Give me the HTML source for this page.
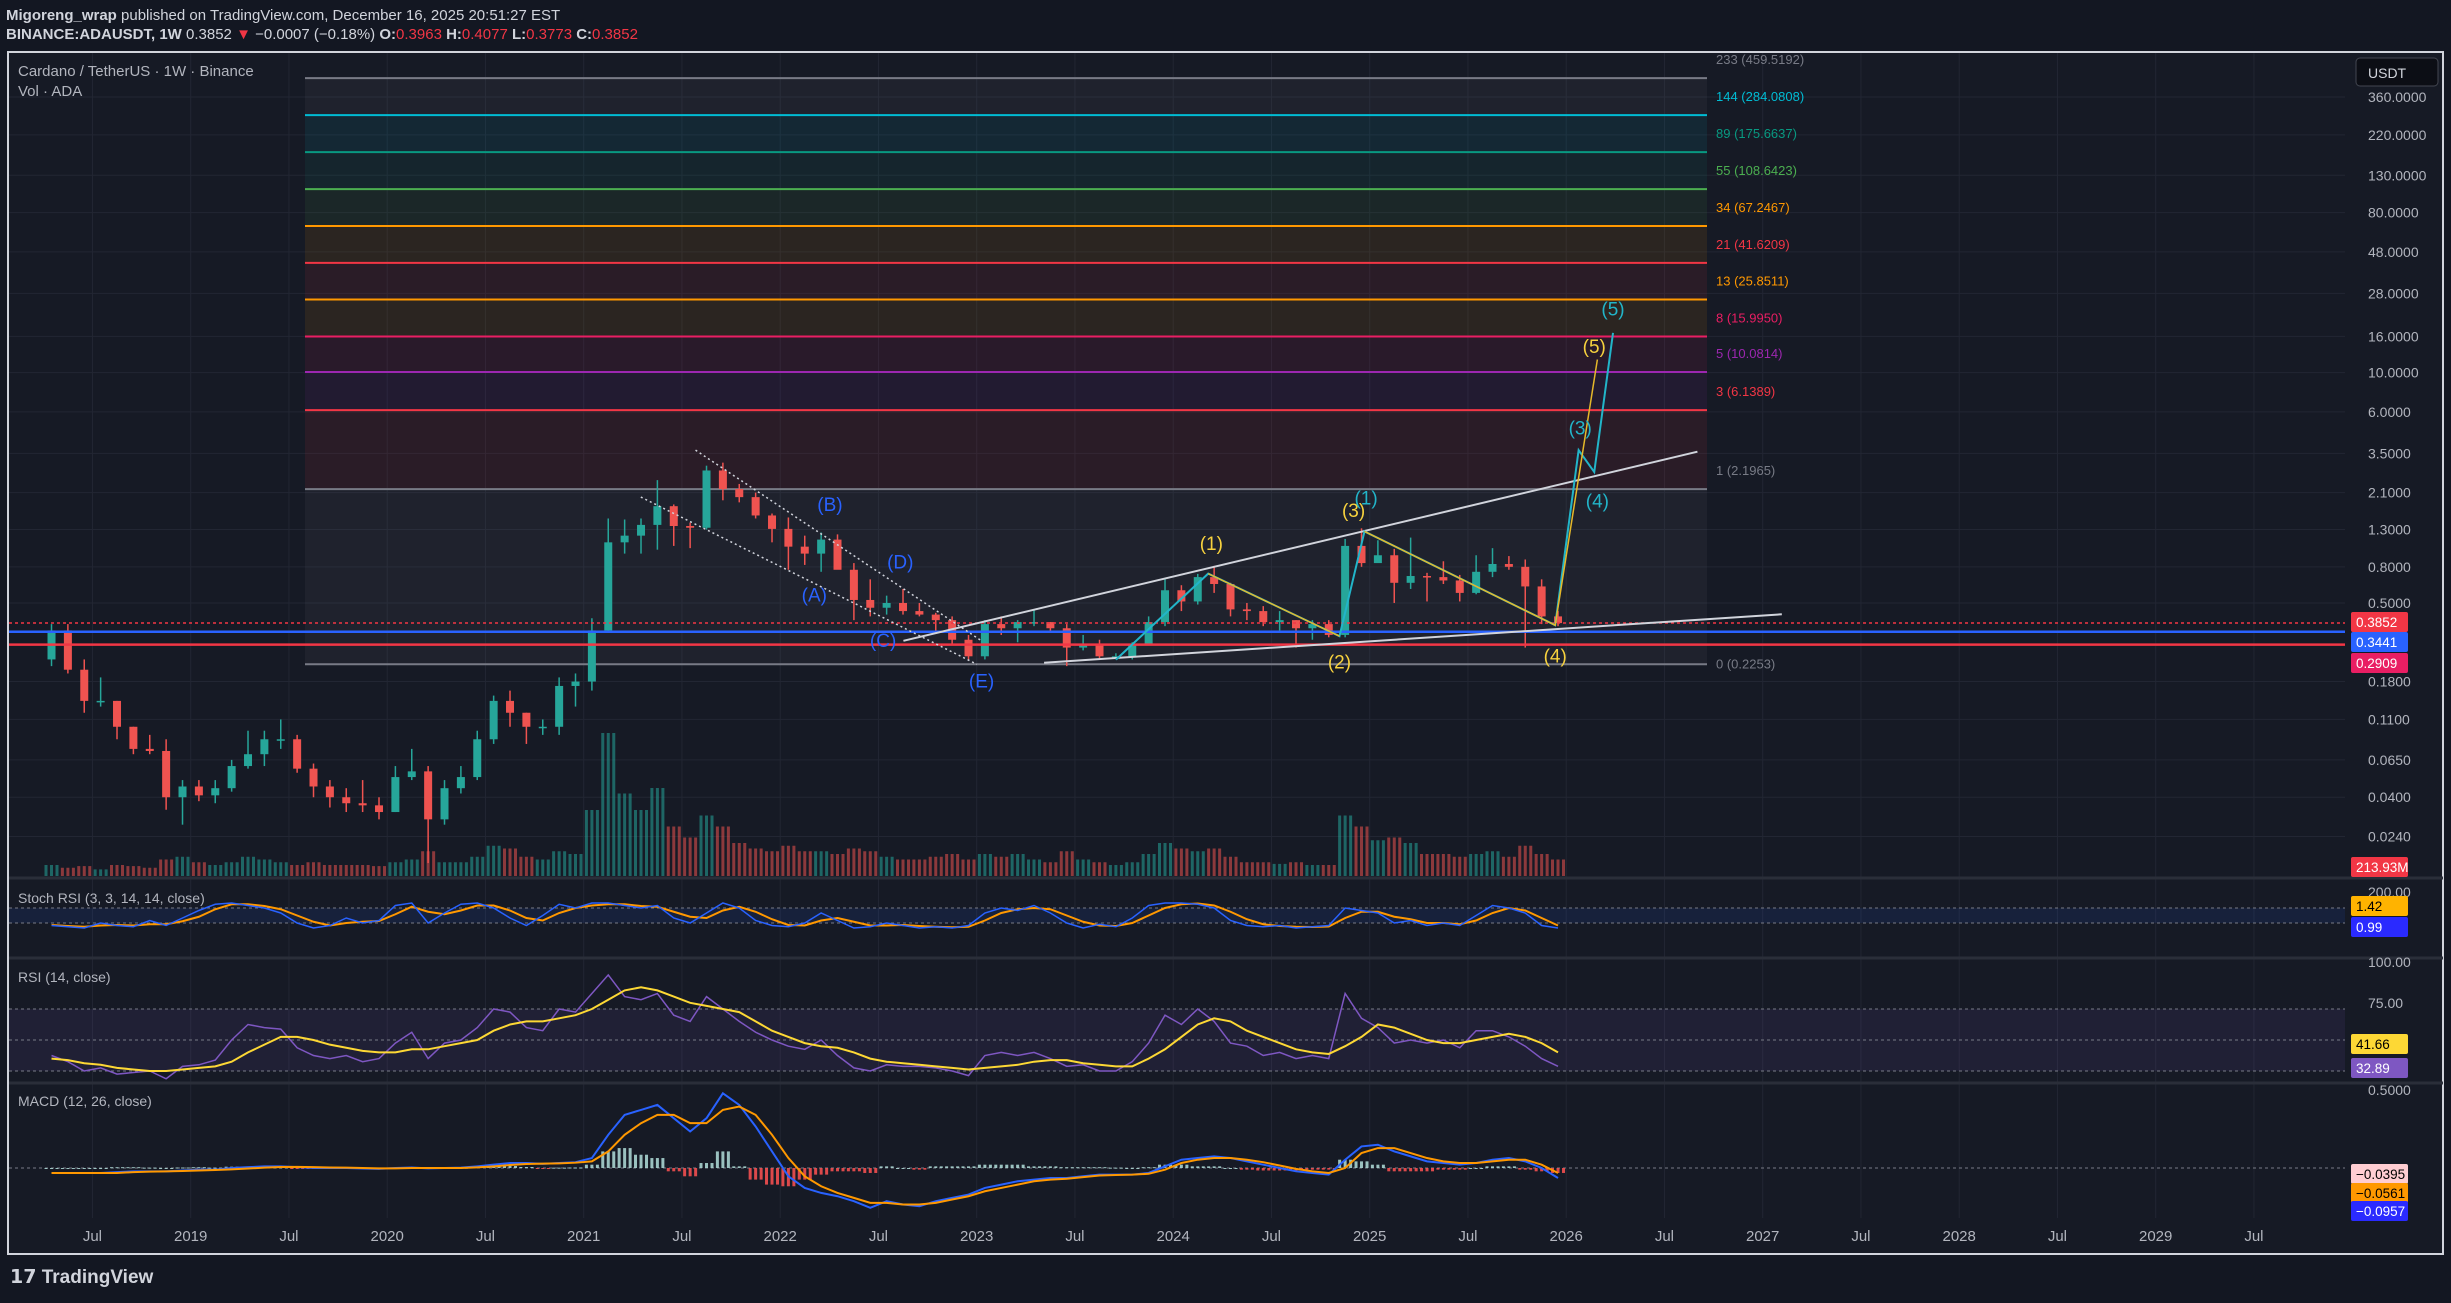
<!DOCTYPE html>
<html><head><meta charset="utf-8"><style>
html,body{margin:0;padding:0;background:#131722;}
body{width:2451px;height:1298px;overflow:hidden;font-family:"Liberation Sans",sans-serif;}
svg text{font-family:"Liberation Sans",sans-serif;}
</style></head><body>
<svg id="c" width="2451" height="1298" viewBox="0 0 2451 1298" xmlns="http://www.w3.org/2000/svg">
<rect x="0" y="0" width="2451" height="1298" fill="#131722"/>
<text x="6" y="20" fill="#d1d4dc" font-size="15"><tspan font-weight="bold">Migoreng_wrap</tspan> published on TradingView.com, December 16, 2025 20:51:27 EST</text>
<text x="6" y="39" fill="#d1d4dc" font-size="15"><tspan font-weight="bold">BINANCE:ADAUSDT, 1W</tspan> 0.3852 <tspan fill="#f23645">▼</tspan> −0.0007 (−0.18%) <tspan font-weight="bold">O:</tspan><tspan fill="#f23645">0.3963</tspan> <tspan font-weight="bold">H:</tspan><tspan fill="#f23645">0.4077</tspan> <tspan font-weight="bold">L:</tspan><tspan fill="#f23645">0.3773</tspan> <tspan font-weight="bold">C:</tspan><tspan fill="#f23645">0.3852</tspan></text>
<rect x="8" y="52" width="2435" height="1202" fill="#161a25" stroke="#d1d4dc" stroke-width="2"/>
<g id="grid"></g>
<g id="fib"></g>
<g id="vol"></g>
<g id="candles"></g>
<g id="draw"></g>
<g id="panes"></g>
<g id="axis"></g>
<text x="18" y="76" fill="#b2b5be" font-size="15">Cardano / TetherUS · 1W · Binance</text>
<text x="18" y="96" fill="#b2b5be" font-size="15">Vol · ADA</text>
<text x="18" y="903" fill="#b2b5be" font-size="14">Stoch RSI (3, 3, 14, 14, close)</text>
<text x="18" y="982" fill="#b2b5be" font-size="14">RSI (14, close)</text>
<text x="18" y="1106" fill="#b2b5be" font-size="14">MACD (12, 26, close)</text>
<rect x="2356" y="58" width="82" height="28" rx="4" fill="#0c0e15" stroke="#434651"/>
<text x="2368" y="78" fill="#d1d4dc" font-size="14">USDT</text>
<text x="10" y="1283" fill="#d1d4dc" font-size="19" font-weight="bold">𝟭𝟳 TradingView</text>
</svg>
<script>
const NS="http://www.w3.org/2000/svg";
const startYear=2018.25;
const opens=[.24,.35,.21,.14,.14,.10,.075,.073,.04, .046,.041,.045,.06,.07,.085,.085,.058,.046,.04,.037,.036, .033,.052,.056,.03,.045,.052,.085,.14,.12,.10,.10,.17, .18,.35,1.10,1.20,1.38,1.76,1.36,1.33,2.80,2.20,1.98,1.56, 1.31,1.04,.95,1.14,.77,.52,.47,.50,.45,.43,.40,.31, .25,.38,.36,.39,.39,.36,.28,.29,.25,.25,.29,.39, .59,.51,.70,.64,.46,.45,.39,.40,.36,.38,.33,1.05, .84,.93,.65,.71,.70,.67,.57,.75,.83,.80,.62,.42];
const highs=[.38,.38,.24,.19,.14,.10,.09,.085,.05, .05,.05,.065,.095,.095,.11,.09,.062,.05,.045,.05,.04, .06,.075,.06,.05,.06,.095,.15,.16,.12,.11,.19,.20, .41,1.50,1.48,1.50,2.47,1.80,1.42,2.98,3.10,2.35,2.10,1.60, 1.52,1.20,1.25,1.22,.84,.68,.55,.60,.50,.44,.42,.33, .40,.42,.40,.46,.39,.38,.33,.31,.26,.30,.42,.68, .63,.73,.81,.65,.50,.48,.45,.40,.40,.40,1.15,1.32, 1.13,1.01,1.17,.74,.86,.72,.93,1.02,.92,.88,.68,.45];
const lows=[.22,.20,.12,.13,.085,.07,.07,.034,.028, .038,.037,.043,.058,.06,.075,.055,.04,.035,.033,.033,.03, .033,.05,.017,.028,.042,.05,.08,.10,.08,.09,.09,.13, .16,.35,.95,.95,1.00,1.05,1.02,1.30,1.90,1.85,1.50,1.10, .77,.82,.75,.78,.40,.42,.43,.43,.42,.34,.29,.24, .24,.33,.30,.37,.34,.22,.27,.24,.24,.24,.29,.37, .45,.49,.57,.42,.40,.37,.35,.28,.31,.32,.32,.80, .85,.50,.60,.51,.64,.51,.56,.70,.77,.28,.38,.37];
const closes=[.35,.21,.14,.14,.10,.075,.073,.04,.046, .041,.045,.06,.07,.085,.085,.058,.046,.04,.037,.036,.033, .052,.056,.03,.045,.052,.085,.14,.12,.10,.10,.17,.18, .35,1.10,1.20,1.38,1.76,1.36,1.33,2.80,2.20,1.98,1.56,1.31, 1.04,.95,1.14,.77,.52,.47,.50,.45,.43,.40,.31,.25, .38,.36,.39,.39,.36,.28,.29,.25,.25,.29,.39,.59, .51,.70,.64,.46,.45,.39,.40,.36,.38,.33,1.05,.84, .93,.65,.71,.70,.67,.57,.75,.83,.80,.62,.42,.385];
const volumes=[20,15,18,12,20,18,15,30,35, 25,20,25,35,30,25,20,25,20,20,20,18, 25,30,45,25,25,35,55,50,35,30,45,40, 120,260,150,120,160,90,70,110,90,60,50,45, 55,45,45,40,50,45,35,30,30,35,40,30, 40,35,40,30,25,45,30,25,20,25,40,60, 50,45,50,35,25,25,22,25,20,20,110,90, 65,70,60,40,40,35,40,45,35,55,40,30];
const stochK=[10,5,0,20,10,5,30,10,40, 70,95,100,90,80,60,20,0,10,40,20,30, 90,100,20,60,95,100,80,40,10,50,95,80, 100,100,90,80,90,40,20,60,100,80,30,10, 5,20,60,30,0,5,20,10,0,5,0,10, 60,80,70,90,60,20,0,15,5,40,90,100, 100,95,80,30,10,5,10,0,5,10,80,70, 60,20,30,10,20,10,50,90,80,60,10,0];
const stochD=[12,8,5,10,12,10,15,15,27, 45,75,95,95,88,75,50,25,10,20,25,28, 55,85,65,55,70,90,90,70,40,30,60,80, 90,95,95,88,85,65,45,40,70,85,65,35, 12,10,30,40,25,10,10,12,8,5,3,5, 30,60,75,80,75,50,25,10,8,20,50,80, 95,98,90,65,35,15,8,5,4,6,40,65, 65,45,35,20,20,15,30,60,80,70,40,10];
const rsiVals=[40,36,30,32,28,29,30,25,33, 34,37,50,60,58,57,45,40,38,40,36,38, 48,55,38,48,50,58,70,68,58,56,70,68, 80,92,78,76,80,66,62,78,70,62,55,50, 46,44,50,40,32,30,34,33,33,32,30,27, 40,42,40,42,38,33,34,30,30,36,48,66, 60,70,62,48,46,40,42,38,40,38,80,64, 58,48,50,48,50,45,56,56,52,46,38,33];
const rsiMA=[38,37,35,34,32,31,30,30,31, 32,33,36,42,47,52,52,50,47,45,43,42, 42,44,44,46,48,50,56,60,62,62,64,66, 70,76,82,84,82,78,74,72,70,68,62,56, 52,48,46,45,42,38,36,35,34,33,32,31, 32,33,34,36,37,37,35,34,33,33,38,44, 52,60,64,62,56,52,48,44,42,41,46,52, 60,58,54,50,48,48,50,52,54,52,48,42];
const macdVals=[-.03,-.03,-.03,-.03,-.025,-.02,-.02,-.02,-.015, -.01,-.01,0,.005,.01,.01,.005,0,0,0,-.003,-.005, 0,.003,-.002,0,.002,.01,.02,.03,.03,.025,.03,.035, .06,.2,.32,.35,.38,.3,.22,.3,.45,.38,.25,.1, -.05,-.12,-.15,-.17,-.2,-.24,-.2,-.22,-.23,-.2,-.18,-.16, -.12,-.1,-.08,-.07,-.06,-.06,-.05,-.04,-.04,-.04,-.03,.01, .05,.06,.07,.06,.04,.02,0,-.02,-.03,-.04,.05,.13, .14,.1,.07,.04,.03,.02,.03,.05,.06,.04,0,-.06];
const signalVals=[-.03,-.03,-.03,-.03,-.03,-.025,-.022,-.02,-.018, -.015,-.012,-.008,-.003,.002,.006,.007,.005,.003,.002,0,-.002, -.002,0,0,0,0,.004,.01,.018,.024,.026,.028,.032, .04,.1,.2,.27,.32,.32,.27,.27,.35,.37,.32,.2, .06,-.05,-.11,-.15,-.18,-.21,-.21,-.22,-.22,-.21,-.19,-.17, -.14,-.12,-.1,-.08,-.07,-.065,-.055,-.045,-.042,-.04,-.035,-.01, .03,.05,.06,.06,.05,.035,.015,-.005,-.02,-.03,0,.09, .12,.12,.09,.06,.04,.03,.03,.04,.05,.05,.02,-.03];
const priceTicks=[360,220,130,80,48,28,16,10,6,3.5,2.1,1.3,0.8,0.5,0.18,0.11,0.065,0.04,0.024];
const fibLevels=["0","1","3","5","8","13","21","34","55","89","144","233"];
const fibPrices=[0.2253,2.1965,6.1389,10.0814,15.995,25.8511,41.6209,67.2467,108.6423,175.6637,284.0808,459.5192];
const fibColors=["#787b86","#787b86","#f23645","#9c27b0","#e91e63","#ff9800","#f23645","#ff9800","#4caf50","#089981","#00bcd4","#787b86"];
const timeLabels=["Jul","2019","Jul","2020","Jul","2021","Jul","2022","Jul","2023","Jul","2024","Jul","2025","Jul","2026","Jul","2027","Jul","2028","Jul","2029","Jul"];
const timeValues=[2018.5,2019,2019.5,2020,2020.5,2021,2021.5,2022,2022.5,2023,2023.5,2024,2024.5,2025,2025.5,2026,2026.5,2027,2027.5,2028,2028.5,2029,2029.5];

const xYear=t=>190.7+(t-2019)*196.5;
const xIdx=i=>xYear(startYear+i/12+1/24);
const py=p=>97+(2.556-Math.log10(p))*177.1;
const stY=v=>928-v*0.25;
const rsiY=v=>1040-(v-50)*1.55;
const macdY=v=>1168-v*166;
const volY=v=>876-v*0.55;

function mk(tag,attrs,parent){const e=document.createElementNS(NS,tag);for(const k in attrs)e.setAttribute(k,attrs[k]);document.getElementById(parent).appendChild(e);return e;}
function txt(parent,x,y,s,fill,size,anchor){const e=mk('text',{x:x,y:y,fill:fill,'font-size':size||14,'text-anchor':anchor||'start'},parent);e.textContent=s;return e;}

timeValues.forEach((t,i)=>{const x=xYear(t);
 const l=mk('line',{x1:x,y1:53,x2:x,y2:1218,stroke:'#222633','stroke-width':1},'grid');
 
 
 const tl=txt('axis',x,1241,timeLabels[i],'#b2b5be',15,'middle');
 
 
});
priceTicks.forEach(p=>{const y=py(p);
 const l=mk('line',{x1:9,y1:y,x2:2345,y2:y,stroke:'#222633','stroke-width':1},'grid');
 
 
 const tl=txt('axis',2368,y+5,p.toFixed(4),'#b2b5be',14);
 
 
});

const fx1=305,fx2=1707;
for(let i=0;i<fibPrices.length-1;i++){
 const y1=py(fibPrices[i+1]),y2=py(fibPrices[i]);
 const r=mk('rect',{x:fx1,y:y1,width:fx2-fx1,height:y2-y1,fill:fibColors[i+1],opacity:0.09},'fib');
 
 
}
fibPrices.forEach((p,i)=>{const y=py(p);
 const l=mk('line',{x1:fx1,y1:y,x2:fx2,y2:y,stroke:fibColors[i],'stroke-width':2},'fib');
 
 
 const t=txt('fib',1716,y-(i==0?-4:14),fibLevels[i]+' ('+p.toFixed(4)+')',fibColors[i],13);
 
 
});

volumes.forEach((v,i)=>{const up=closes[i]>=opens[i];
 for(let k=-1;k<=1;k++){
 const b=mk('rect',{x:xIdx(i)+k*5.5-1.5,y:volY(v),width:3,height:876-volY(v),fill:up?'#26a69a':'#ef5350',opacity:0.55},'vol');
 
 }
});

closes.forEach((c,i)=>{const x=xIdx(i),up=c>=opens[i],col=up?'#26a69a':'#ef5350';
 const w=mk('line',{x1:x,y1:py(highs[i]),x2:x,y2:py(lows[i]),stroke:col,'stroke-width':1.5},'candles');
 
 
 const yt=py(Math.max(c,opens[i])),yb=py(Math.min(c,opens[i]));
 const b=mk('rect',{x:x-4,y:yt,width:8,height:Math.max(1.5,yb-yt),fill:col},'candles');
 
 
});

[[0.3852,'#f23645','3 3'],[0.3441,'#2962ff',''],[0.2909,'#f23645','']].forEach(a=>{
 const l=mk('line',{x1:9,y1:py(a[0]),x2:2345,y2:py(a[0]),stroke:a[1],'stroke-width':a[2]?1.5:2.5,'stroke-dasharray':a[2]},'draw');
 
 
});

const S=1.563;
function pl(pts,col,w,dash,name){const l=mk('polyline',{points:pts.map(p=>(p[0]*S)+','+(p[1]*S)).join(' '),fill:'none',stroke:col,'stroke-width':w,'stroke-dasharray':dash||''},'draw');
 
 }
pl([[445,288],[628,410]],'#d1d4dc',1.5,'2 3','channel-upper-dotted');
pl([[410,318],[625,425]],'#d1d4dc',1.5,'2 3','channel-lower-dotted');
pl([[578,410],[1086,289]],'#d1d4dc',2,'','upper-trendline');
pl([[668,424],[1140,393]],'#d1d4dc',2,'','lower-trendline');
pl([[714,422],[773,367],[857,407],[873,340],[995,400],[1010,288],[1020,302],[1032,213]],'#22b5c9',2,'','cyan-wave-path');
pl([[773,367],[857,407]],'#e5b82a',1.5,'','yellow-wave-2');
pl([[873,340],[995,400],[1022,230]],'#e5b82a',1.5,'','yellow-wave-4-5');
const labels=[["(B)",531,323,'#2962ff'],["(A)",521,381,'#2962ff'],["(D)",576,360,'#2962ff'],["(C)",565,410,'#2962ff'],["(E)",628,436,'#2962ff'],
["(1)",775,348,'#f7d23e'],["(2)",857,424,'#f7d23e'],["(3)",866,327,'#f7d23e'],["(1)",874,319,'#22b5c9'],["(4)",995,420,'#f7d23e'],["(5)",1020,222,'#f7d23e'],["(3)",1011,274,'#22b5c9'],["(4)",1022,321,'#22b5c9'],["(5)",1032,198,'#22b5c9']];
labels.forEach(l=>{const t=txt('draw',l[1]*S,l[2]*S+6,l[0],l[3],19,'middle');
 
 });

[878,958,1083].forEach(y=>{const l=mk('line',{x1:9,y1:y,x2:2443,y2:y,stroke:'#2a2e39','stroke-width':3},'panes');
 
 });

const sb=mk('rect',{x:9,y:stY(80),width:2336,height:stY(20)-stY(80),fill:'#2962ff',opacity:0.1},'panes');


[80,20].forEach(v=>{const l=mk('line',{x1:9,y1:stY(v),x2:2345,y2:stY(v),stroke:'#787b86','stroke-dasharray':'3 3'},'panes');
 
 });
function series(arr,yf,col,w,name){const l=mk('polyline',{points:arr.map((v,i)=>xIdx(i)+','+yf(v)).join(' '),fill:'none',stroke:col,'stroke-width':w},'panes');
 
 }
series(stochD,stY,'#ff9800',2,'stoch-d-line');
series(stochK,stY,'#2962ff',1.5,'stoch-k-line');

const rb=mk('rect',{x:9,y:rsiY(70),width:2336,height:rsiY(30)-rsiY(70),fill:'#7e57c2',opacity:0.1},'panes');


[70,50,30].forEach(v=>{const l=mk('line',{x1:9,y1:rsiY(v),x2:2345,y2:rsiY(v),stroke:'#787b86','stroke-dasharray':'3 3'},'panes');
 
 });
series(rsiVals,rsiY,'#7e57c2',1.5,'rsi-line');
series(rsiMA,rsiY,'#fdd835',2,'rsi-ma-line');

const zl=mk('line',{x1:9,y1:macdY(0),x2:2345,y2:macdY(0),stroke:'#787b86','stroke-dasharray':'3 3'},'panes');


macdVals.forEach((m,i)=>{const h=m-signalVals[i],y0=macdY(0),y1=macdY(h);
 for(let k=-1;k<=1;k++){
 const b=mk('rect',{x:xIdx(i)+k*5.5-1.5,y:Math.min(y0,y1),width:3,height:Math.max(1,Math.abs(y1-y0)),fill:h>=0?'#b2dfdb':'#ff5252',opacity:0.85},'panes');
 
 }});
series(macdVals,macdY,'#2962ff',2,'macd-line');
series(signalVals,macdY,'#ff9800',2,'signal-line');

[["100.00",962],["75.00",1003],["200.00",892],["0.5000",1090]].forEach(a=>{const t=txt('axis',2368,a[1]+5,a[0],'#b2b5be',14);
 
 });
[["0.3852",622,'#f23645','#fff'],["0.3441",642,'#2962ff','#fff'],["0.2909",663,'#e91e63','#fff'],["213.93M",867,'#f23645','#fff'],
["1.42",906,'#ffb300','#000'],["0.99",927,'#2a2aff','#fff'],["41.66",1044,'#fdd835','#000'],["32.89",1068,'#7e57c2','#fff'],
["−0.0395",1174,'#ffcdd2','#000'],["−0.0561",1193,'#ff9800','#000'],["−0.0957",1211,'#2a2aff','#fff']].forEach(a=>{
 const r=mk('rect',{x:2351,y:a[1]-10,width:57,height:20,rx:2,fill:a[2]},'axis');
 
 
 const t=txt('axis',2356,a[1]+5,a[0],a[3],13.5);
 
 });
</script>
</body></html>
